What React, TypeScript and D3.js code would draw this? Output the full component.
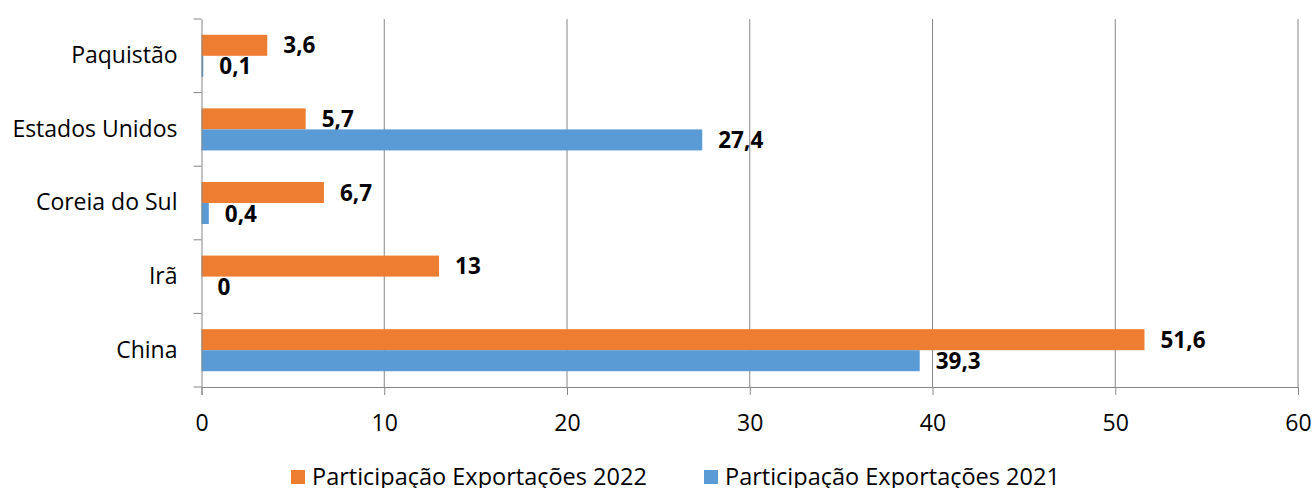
import React, { useEffect, useRef } from 'react';
import * as d3 from 'd3';

const countries = ['China', 'Irã', 'Coreia do Sul', 'Estados Unidos', 'Paquistão'];
const exp2022 = [51.6, 13, 6.7, 5.7, 3.6];
const exp2021 = [39.3, 0, 0.4, 27.4, 0.1];
const xTicks = [0, 10, 20, 30, 40, 50, 60];
const seriesNames = ['Participação Exportações 2022', 'Participação Exportações 2021'];
const colors = ['#ED7D31', '#5B9BD5'];

const W = 1314;
const H = 488;

const App = () => {
  const svgRef = useRef(null);

  useEffect(() => {
    const svg = d3.select(svgRef.current);
    svg.selectAll('*').remove();
    const font = '"Open Sans", "Noto Sans", sans-serif';

    const x = d3.scaleLinear().domain([0, 60]).range([201.5, 1298]);
    // top category drawn first (Paquistão at top)
    const y = d3.scaleBand().domain(countries.slice().reverse()).range([19, 387]).paddingInner(0).paddingOuter(0);
    const inner = d3.scaleBand().domain(['2022', '2021']).range([0, y.bandwidth()]).paddingInner(0).paddingOuter(0.75);

    // gridlines
    svg.append('g')
      .selectAll('line')
      .data(xTicks.slice(1))
      .join('line')
      .attr('x1', (d) => x(d)).attr('x2', (d) => x(d))
      .attr('y1', 19).attr('y2', 387)
      .attr('stroke', '#868686').attr('stroke-width', 1);

    const rows = countries.map((c, i) => ({ c, v: [exp2022[i], exp2021[i]] }));

    const g = svg.append('g');
    rows.forEach((r) => {
      r.v.forEach((v, k) => {
        const key = k === 0 ? '2022' : '2021';
        const y0 = y(r.c) + inner(key);
        g.append('rect')
          .attr('x', x(0))
          .attr('y', y0)
          .attr('width', x(v) - x(0))
          .attr('height', inner.bandwidth())
          .attr('fill', colors[k]);
        g.append('text')
          .attr('x', x(v) + 16)
          .attr('y', y0 + inner.bandwidth() / 2 + 2)
          .attr('dominant-baseline', 'middle')
          .attr('font-family', font)
          .attr('font-weight', 'bold')
          .attr('font-size', 22.5)
          .attr('fill', '#000')
          .text(String(v).replace('.', ','));
      });
    });

    // left axis
    const yAxis = d3.axisLeft(y).tickSize(0).tickPadding(24);
    const ya = svg.append('g').attr('transform', `translate(${x(0)},0)`).call(yAxis);
    ya.select('.domain').attr('stroke', '#868686');
    ya.selectAll('text').attr('font-family', font).attr('font-size', 23).attr('fill', '#000');
    // category boundary ticks
    svg.append('g')
      .selectAll('line')
      .data(d3.range(countries.length + 1))
      .join('line')
      .attr('x1', x(0) - 8).attr('x2', x(0))
      .attr('y1', (i) => 19 + i * y.step()).attr('y2', (i) => 19 + i * y.step())
      .attr('stroke', '#868686');

    // bottom axis
    const xAxis = d3.axisBottom(x).tickValues(xTicks).tickSize(8).tickPadding(20).tickFormat((d) => String(d));
    const xa = svg.append('g').attr('transform', 'translate(0,387)').call(xAxis);
    xa.select('.domain').attr('stroke', '#868686');
    xa.selectAll('.tick line').attr('stroke', '#868686');
    xa.selectAll('text').attr('font-family', font).attr('font-size', 23).attr('fill', '#000');

    // legend
    const legendX = [291, 704];
    seriesNames.forEach((n, k) => {
      svg.append('rect')
        .attr('x', legendX[k]).attr('y', 470).attr('width', 14).attr('height', 14)
        .attr('fill', colors[k]);
      svg.append('text')
        .attr('x', legendX[k] + 21).attr('y', 485)
        .attr('font-family', font).attr('font-size', 23.5).attr('fill', '#000')
        .text(n);
    });
  }, []);

  return (
    <svg ref={svgRef} width={W} height={H} style={{ position: 'absolute', left: 0, top: 0 }} />
  );
};

export default App;
